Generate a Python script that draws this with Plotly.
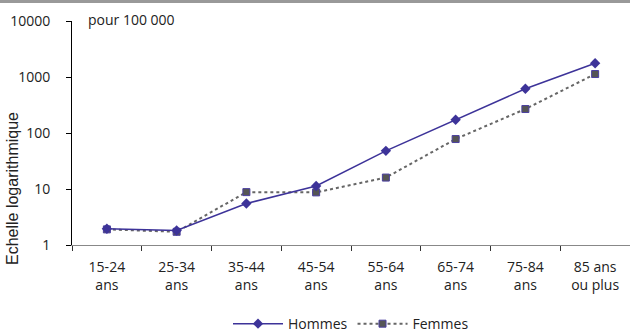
import plotly.graph_objects as go

categories = ["15-24<br>ans", "25-34<br>ans", "35-44<br>ans", "45-54<br>ans",
              "55-64<br>ans", "65-74<br>ans", "75-84<br>ans", "85 ans<br>ou plus"]
hommes = [1.95, 1.82, 5.5, 11.3, 48, 172, 615, 1760]
femmes = [1.9, 1.72, 8.8, 8.7, 16, 78, 268, 1130]
y_ticks = [1, 10, 100, 1000, 10000]

FONT = "Open Sans"

fig = go.Figure()
fig.add_trace(go.Scatter(
    x=categories, y=femmes, name="Femmes", mode="lines+markers",
    line=dict(color="#666666", width=2, dash="dot"),
    marker=dict(symbol="square", size=7, color="#555555",
                line=dict(color="#4b3fa0", width=1)),
))
fig.add_trace(go.Scatter(
    x=categories, y=hommes, name="Hommes", mode="lines+markers",
    line=dict(color="#3d3399", width=1.5),
    marker=dict(symbol="diamond", size=8, color="#3d3399"),
))

fig.update_layout(
    width=630, height=333,
    margin=dict(l=72, r=0, t=21, b=88, autoexpand=False),
    paper_bgcolor="white", plot_bgcolor="white",
    font=dict(family=FONT, size=14, color="#222222"),
    showlegend=True,
    legend=dict(orientation="h", x=0.5, xanchor="center", y=-0.353, yanchor="middle",
                traceorder="reversed", font=dict(size=14, family=FONT),
                itemwidth=50),
    xaxis=dict(
        type="category", showgrid=False, showline=True, linecolor="#888888",
        linewidth=1, ticks="outside", ticklen=5, tickcolor="#333333",
        tickson="boundaries", tickfont=dict(size=14, family=FONT),
        ticklabelstandoff=9,
        range=[-0.5, 7.5], automargin=False,
    ),
    yaxis=dict(
        type="log", range=[0, 4], tickvals=y_ticks,
        ticktext=[str(v) for v in y_ticks],
        showgrid=False, showline=True, linecolor="#000000", linewidth=1,
        ticks="outside", ticklen=5, tickcolor="#000000",
        tickfont=dict(size=14, family=FONT), ticklabelstandoff=13,
        zeroline=False, automargin=False,
    ),
    shapes=[dict(type="rect", xref="paper", yref="paper",
                 x0=-0.2, x1=1.05, y0=1 + 18 / 224, y1=1 + 21 / 224,
                 fillcolor="#999999", line=dict(width=0), layer="above")],
    annotations=[
        dict(text="pour 100 000", xref="paper", yref="paper",
             x=(86 - 72) / 558, y=1 + 1 / 224, xanchor="left",
             yanchor="middle", showarrow=False,
             font=dict(family=FONT, size=14, color="#222222")),
        dict(text="Echelle logarithmique", xref="paper", yref="paper",
             x=(12 - 72) / 558, y=(245 - 189) / 224, xanchor="center",
             yanchor="middle", textangle=-90, showarrow=False,
             font=dict(family="Liberation Sans", size=16, color="#222222")),
    ],
)

fig.write_html("out.html", config={"displayModeBar": False},
               post_script="document.body.style.margin='0';document.body.style.overflow='hidden';")
